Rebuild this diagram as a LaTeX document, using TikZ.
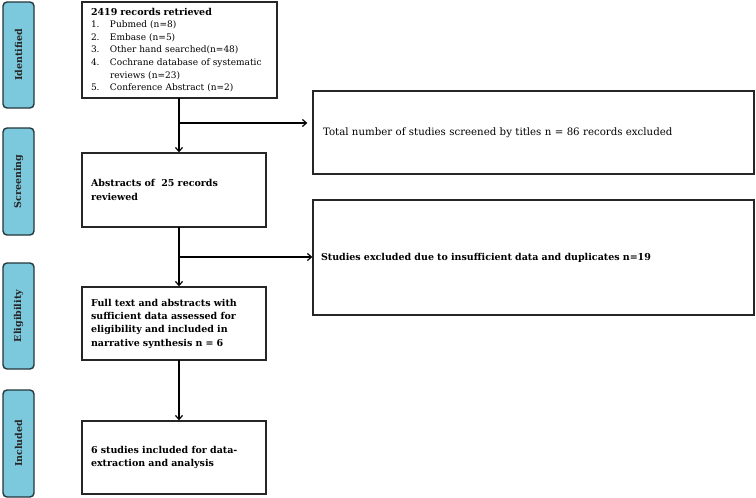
\documentclass[tikz,border=0pt]{standalone}
\usepackage{fontspec}
\setmainfont{DejaVu Serif}
\usetikzlibrary{arrows.meta}
\definecolor{lblfill}{RGB}{124,200,220}
\definecolor{lbldraw}{RGB}{35,55,60}
\newcommand{\itm}[2]{\mbox{\makebox[19pt][l]{#1}#2}}
\begin{document}
\begin{tikzpicture}[x=1pt,y=-1pt,
  phase/.style={draw=lbldraw,line width=1.4pt,fill=lblfill,rounded corners=4pt,
    minimum width=31pt,inner sep=0pt},
  phasetext/.style={rotate=90,font=\fontsize{9.5}{10}\selectfont\bfseries,text=black!85},
  box/.style={draw=black!85,line width=1.3pt,inner xsep=9pt,inner ysep=0pt,align=left,
    font=\fontsize{9.5}{12.7}\selectfont},
  arr/.style={line width=1.4pt,-{Straight Barb[length=4pt,width=7pt,line width=1.2pt]}},
  ln/.style={line width=1.4pt}]
\useasboundingbox (0,0) rectangle (756,498);
% phase labels
\node[phase,minimum height=106pt] (pI) at (18.5,55) {};
\node[phasetext] at (pI) {Identified};
\node[phase,minimum height=107pt] (pS) at (18.5,181.5) {};
\node[phasetext] at (pS) {Screening};
\node[phase,minimum height=106pt] (pE) at (18.5,316) {};
\node[phasetext] at (pE) {Eligibility};
\node[phase,minimum height=107pt] (pN) at (18.5,443.5) {};
\node[phasetext] at (pN) {Included};
% main boxes
\node[box,minimum width=195pt,minimum height=96pt,text width=177pt,font=\fontsize{9}{12.6}\selectfont] (b1) at (179.5,50)
 {{\fontsize{9.5}{12.6}\selectfont\bfseries 2419 records retrieved}\\
  \itm{1.}{Pubmed (n=8)}\\
  \itm{2.}{Embase (n=5)}\\
  \itm{3.}{Other hand searched(n=48)}\\
  \itm{4.}{Cochrane database of systematic}\\
  \itm{}{reviews (n=23)}\\
  \itm{5.}{Conference Abstract (n=2)}};
\node[box,minimum width=184pt,minimum height=74pt,text width=166pt,font=\fontsize{9.5}{14}\selectfont\bfseries] (b2) at (174,190)
 {Abstracts of\ \ 25 records\\reviewed};
\node[box,minimum width=184pt,minimum height=73pt,text width=166pt,font=\fontsize{9.5}{13.3}\selectfont\bfseries] (b3) at (174,323.5)
 {Full text and abstracts with\\sufficient data assessed for\\eligibility and included in\\narrative synthesis n = 6};
\node[box,minimum width=184pt,minimum height=73pt,text width=166pt,font=\fontsize{9.5}{13.3}\selectfont\bfseries] (b4) at (174,457.5)
 {6 studies included for data-\\extraction and analysis};
% right boxes
\node[box,minimum width=441pt,minimum height=83pt,text width=421pt,inner xsep=10pt,font=\fontsize{10.2}{12.7}\selectfont] (r1) at (533.5,132.5)
 {Total number of studies screened by titles n = 86 records excluded};
\node[box,minimum width=441pt,minimum height=115pt,text width=425pt,inner xsep=8pt,font=\fontsize{9.5}{12.7}\selectfont\bfseries] (r2) at (533.5,257.5)
 {Studies excluded due to insufficient data and duplicates n=19};
% connectors
\coordinate (t1) at (179,98);
\coordinate (c1) at (179,123);
\coordinate (t2) at (179,227);
\coordinate (c2) at (179,257);
\coordinate (t3) at (179,360);
\draw[arr] (t1) -- (t1 |- b2.north);
\draw[arr,shorten >=5pt] (c1) -- (c1 -| r1.west);
\draw[ln] (t2) -- (c2);
\draw[arr] (c2) -- (t2 |- b3.north);
\draw[arr] (c2) -- (c2 -| r2.west);
\draw[arr] (t3) -- (t3 |- b4.north);
\end{tikzpicture}
\end{document}
